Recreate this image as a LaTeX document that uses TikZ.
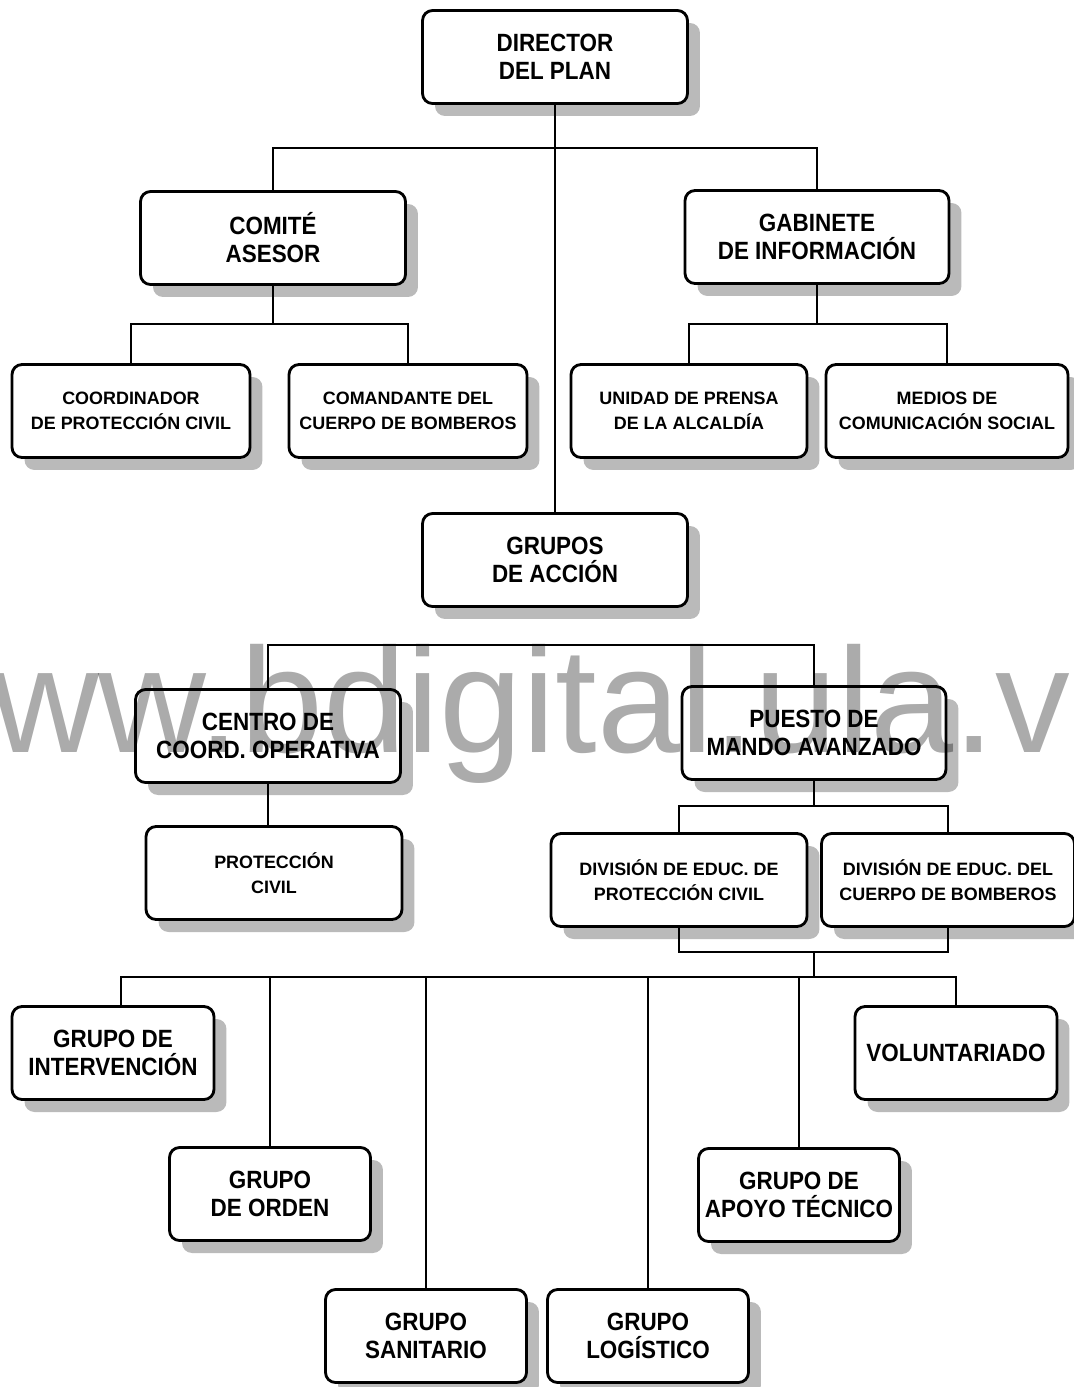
\documentclass[tikz,border=0pt]{standalone}
\usepackage{fontspec}
\setmainfont{Liberation Sans}
\newfontfamily\narrowfont{Liberation Sans}[FakeStretch=0.9]
\usepackage{tikz}
\usetikzlibrary{positioning, calc, shadows}

\begin{document}
\begin{tikzpicture}[x=0.02cm, y=-0.02cm,
    plan/.style={rectangle, rounded corners=0.2cm, draw, line width=1.6pt, fill=white, align=center, inner sep=0pt, minimum height=1.86cm,
      drop shadow={shadow xshift=0.25cm, shadow yshift=-0.25cm, fill=black!27, opacity=1}},
    bigbox/.style={plan, font=\narrowfont\bfseries\fontsize{14.2}{15.9}\selectfont},
    smallbox/.style={plan, font=\bfseries\fontsize{10.2}{14.2}\selectfont},
    link/.style={line width=1.1pt}]
  \useasboundingbox (0,0) rectangle (1074,1387);

  % Direction
  \node[bigbox, minimum width=5.3cm] (dir) at (555,57) {DIRECTOR\\DEL PLAN};
  \node[bigbox, minimum width=5.3cm] (com) at (273,238) {COMIT\'E\\ASESOR};
  \node[bigbox, minimum width=5.28cm] (gab) at (817,237) {GABINETE\\DE INFORMACI\'ON};

  \node[smallbox, minimum width=4.76cm] (coord) at (131,411) {COORDINADOR\\DE PROTECCI\'ON CIVIL};
  \node[smallbox, minimum width=4.76cm] (coman) at (408,411) {COMANDANTE DEL\\CUERPO DE BOMBEROS};
  \node[smallbox, minimum width=4.72cm] (uni) at (689,411) {UNIDAD DE PRENSA\\DE LA ALCALD\'IA};
  \node[smallbox, minimum width=4.84cm] (med) at (947,411) {MEDIOS DE\\COMUNICACI\'ON SOCIAL};

  % Action groups
  \node[bigbox, minimum width=5.3cm] (acc) at (555,560) {GRUPOS\\DE ACCI\'ON};
  \node[bigbox, minimum width=5.3cm] (cen) at (268,736) {CENTRO DE\\COORD. OPERATIVA};
  \node[bigbox, minimum width=5.28cm] (pue) at (814,733) {PUESTO DE\\MANDO AVANZADO};

  \node[smallbox, minimum width=5.12cm] (pc) at (274,873) {PROTECCI\'ON\\CIVIL};
  \node[smallbox, minimum width=5.12cm] (div1) at (679,880) {DIVISI\'ON DE EDUC. DE\\PROTECCI\'ON CIVIL};
  \node[smallbox, minimum width=5.06cm] (div2) at (948,880) {DIVISI\'ON DE EDUC. DEL\\CUERPO DE BOMBEROS};

  % Working groups
  \node[bigbox, minimum width=4.04cm] (int) at (113,1053) {GRUPO DE\\INTERVENCI\'ON};
  \node[bigbox, minimum width=4.02cm] (ord) at (270,1194) {GRUPO\\DE ORDEN};
  \node[bigbox, minimum width=4.02cm] (san) at (426,1336) {GRUPO\\SANITARIO};
  \node[bigbox, minimum width=4.02cm] (log) at (648,1336) {GRUPO\\LOG\'ISTICO};
  \node[bigbox, minimum width=4.02cm] (apo) at (799,1195) {GRUPO DE\\APOYO T\'ECNICO};
  \node[bigbox, minimum width=4.04cm] (vol) at (956,1053) {VOLUNTARIADO};

  % Bars
  \coordinate (dirbar) at (555,148);
  \coordinate (combar) at (273,324);
  \coordinate (gabbar) at (817,324);
  \coordinate (accbar) at (555,645);
  \coordinate (puebar) at (814,806);
  \coordinate (divbar) at (814,952);
  \coordinate (grpbar) at (814,977);

  % Lines
  \draw[link] (dir.south) -- (acc.north);
  \draw[link] (com.north) |- (dirbar) -| (gab.north);

  \draw[link] (com.south) -- (combar);
  \draw[link] (coord.north) |- (combar) -| (coman.north);
  \draw[link] (gab.south) -- (gabbar);
  \draw[link] (uni.north) |- (gabbar) -| (med.north);

  \draw[link] (cen.north) |- (accbar) -| (pue.north);
  \draw[link] (cen.south) -- (cen.south |- pc.north);
  \draw[link] (pue.south) -- (puebar);
  \draw[link] (div1.north) |- (puebar) -| (div2.north);
  \draw[link] (div1.south) |- (divbar) -| (div2.south);
  \draw[link] (divbar) -- (grpbar);

  \draw[link] ([xshift=0.16cm]int.north) |- (grpbar) -| (vol.north);
  \draw[link] (ord.north) -- (ord.north |- grpbar);
  \draw[link] (san.north) -- (san.north |- grpbar);
  \draw[link] (log.north) -- (log.north |- grpbar);
  \draw[link] (apo.north) -- (apo.north |- grpbar);

  % Watermark
  \begin{scope}[blend mode=multiply]
    \node[anchor=base west, inner sep=0pt, text=black!33, font=\fontsize{85}{85}\selectfont] (mark) at (-117,752) {www.bdigital.ula.ve};
  \end{scope}
\end{tikzpicture}
\end{document}
